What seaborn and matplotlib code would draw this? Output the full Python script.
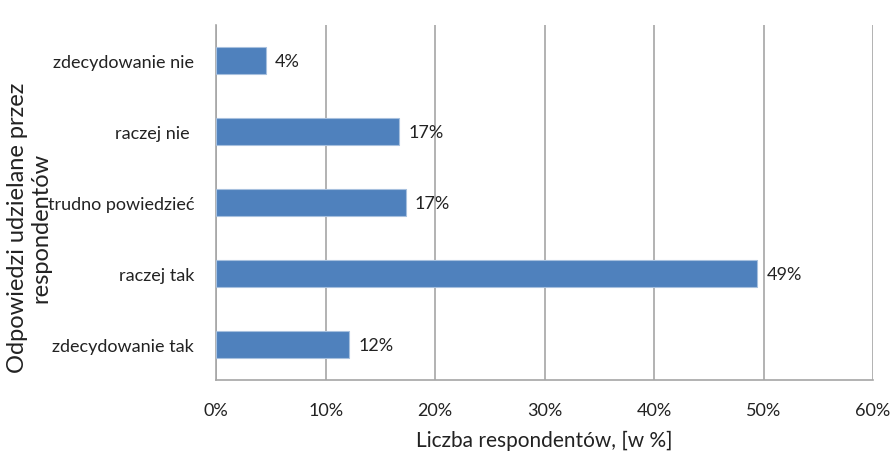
import numpy as np
import pandas as pd
import matplotlib
matplotlib.use('Agg')
import matplotlib.pyplot as plt
import seaborn as sns

### 데이터 ###
categories = ['zdecydowanie nie', 'raczej nie ', 'trudno powiedzieć', 'raczej tak', 'zdecydowanie tak']
values = [4.5, 16.7, 17.3, 49.4, 12.1]
labels = ['4%', '17%', '17%', '49%', '12%']
x_ticks = [0, 10, 20, 30, 40, 50, 60]

df = pd.DataFrame({'odp': categories, 'proc': values})

sns.set_style('white')
plt.rcParams['font.family'] = ['Lato', 'DejaVu Sans']

fig = plt.figure(figsize=(8.9, 4.56), dpi=100)
ax = fig.add_axes([0.243, 0.164, 0.738, 0.779])

sns.barplot(data=df, x='proc', y='odp', orient='h', color='#4F81BD',
            width=0.38, edgecolor='#A7C0DE', linewidth=0.8, saturation=1, ax=ax, zorder=3)

# etykiety wartości
for i, (v, lab) in enumerate(zip(values, labels)):
    ax.text(v + 0.85, i, lab, va='center', ha='left', fontsize=13, color='#222222')

grey = '#A6A6A6'
ax.set_xlim(0, 60)
ax.set_ylim(4.5, -0.5)
ax.set_xticks(x_ticks)
ax.set_xticklabels([f'{t}%' for t in x_ticks], fontsize=13, color='#222222')
ax.set_yticks(range(len(categories)))
ax.set_yticklabels(categories, fontsize=13, color='#222222')
ax.tick_params(axis='y', length=0, pad=16)
ax.tick_params(axis='x', length=5, color=grey, direction='out', pad=11)

# kreski między kategoriami
ax.set_yticks(np.arange(-0.5, len(categories), 1), minor=True)
ax.tick_params(axis='y', which='minor', length=5, color=grey, direction='out')

ax.grid(axis='x', color=grey, linewidth=1.2, zorder=0)
ax.set_axisbelow(True)
for s in ['top', 'right']:
    ax.spines[s].set_visible(False)
for s in ['left', 'bottom']:
    ax.spines[s].set_color(grey)
    ax.spines[s].set_linewidth(1.2)

ax.set_xlabel('Liczba respondentów, [w %]', fontsize=15, color='#222222', labelpad=8)
ax.set_ylabel('')
fig.text(0.033, 0.5, 'Odpowiedzi udzielane przez\nrespondentów', rotation=90,
         ha='center', va='center', multialignment='center', fontsize=17, color='#222222',
         linespacing=1.15)

plt.savefig('out.png', dpi=100)
